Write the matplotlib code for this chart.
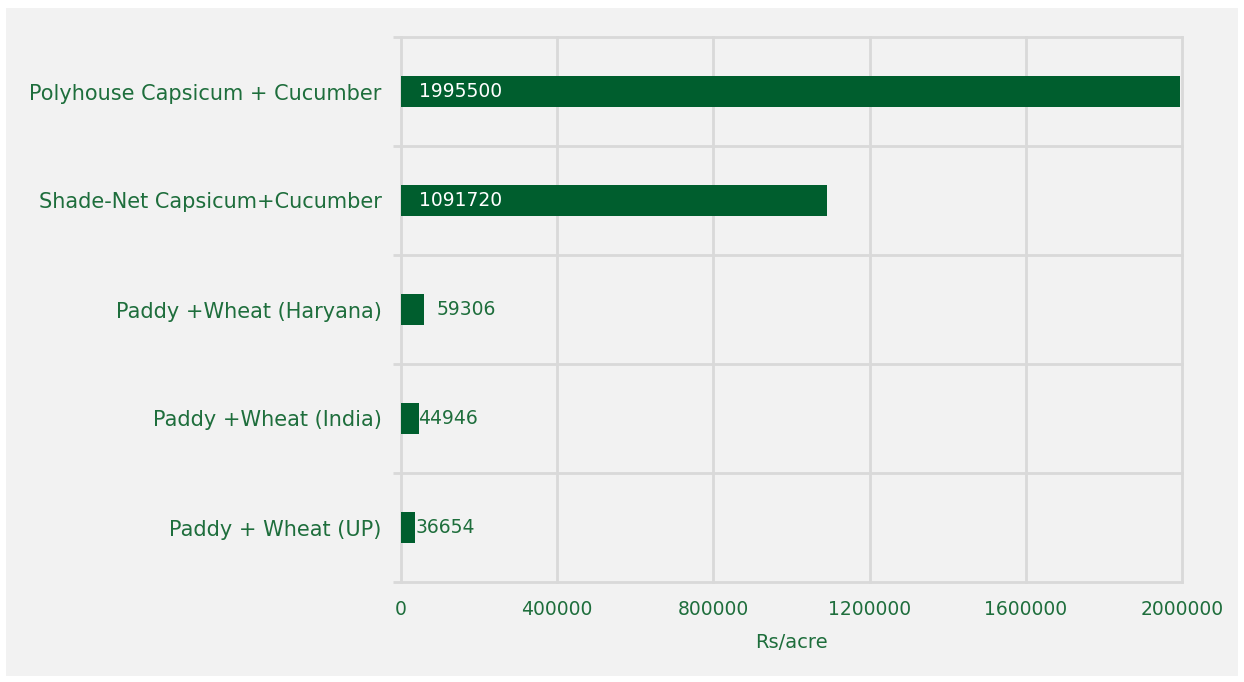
import matplotlib.pyplot as plt
from matplotlib.patches import Rectangle
import numpy as np

# Net returns per acre for each cropping system
systems = ['Polyhouse Capsicum + Cucumber', 'Shade-Net Capsicum+Cucumber',
           'Paddy +Wheat (Haryana)', 'Paddy +Wheat (India)', 'Paddy + Wheat (UP)']
returns = [1995500, 1091720, 59306, 44946, 36654]
xticks = [0, 400000, 800000, 1200000, 1600000, 2000000]

bar_green = '#005E2E'
text_green = '#1E6E3C'
grid_grey = '#D9D9D9'
panel = '#F2F2F2'

plt.rcParams['font.family'] = ['DejaVu Sans']

fig = plt.figure(figsize=(12.44, 6.82), dpi=100)
fig.patches.append(Rectangle((6 / 1244, 6 / 682), 1232 / 1244, 668 / 682,
                             transform=fig.transFigure, facecolor=panel,
                             edgecolor='none', zorder=-10))
ax = fig.add_axes([401 / 1244, 100 / 682, 781 / 1244, 545 / 682])
ax.set_facecolor(panel)

y = np.arange(len(systems))[::-1]
ax.barh(y, returns, height=0.28, color=bar_green, zorder=3)

ax.set_xlim(0, 2000000)
ax.set_ylim(-0.5, len(systems) - 0.5)

# category boundaries as grid lines with short outward ticks
ax.set_yticks(y)
ax.set_yticklabels(systems, fontsize=15, color=text_green)
ax.set_yticks(np.arange(-0.5, len(systems)), minor=True)
ax.tick_params(axis='y', which='major', length=0, pad=14)
ax.tick_params(axis='y', which='minor', length=6, width=2, color=grid_grey)
ax.grid(axis='y', which='minor', color=grid_grey, linewidth=2, zorder=0,
        clip_on=False)

ax.set_xticks(xticks)
ax.set_xticklabels([str(v) for v in xticks], fontsize=13.5, color=text_green)
ax.tick_params(axis='x', length=0, pad=13)
ax.grid(axis='x', which='major', color=grid_grey, linewidth=2, zorder=0,
        clip_on=False)
ax.set_xlabel('Rs/acre', fontsize=14, color=text_green, labelpad=10)

for s in ax.spines.values():
    s.set_visible(False)

# value labels: white inside long bars, green beside short ones
offsets = [0, 0, 9, 0, 0]
for yi, v, off in zip(y, returns, offsets):
    if v > 500000:
        ax.annotate(str(v), (0, yi), xytext=(13, 0), textcoords='offset points',
                    va='center', ha='left', color='white', fontsize=13.5, zorder=4)
    else:
        ax.annotate(str(v), (v, yi), xytext=(off, 0), textcoords='offset points',
                    va='center', ha='left', color=text_green, fontsize=13.5, zorder=4)

fig.savefig('out.png', dpi=100)
